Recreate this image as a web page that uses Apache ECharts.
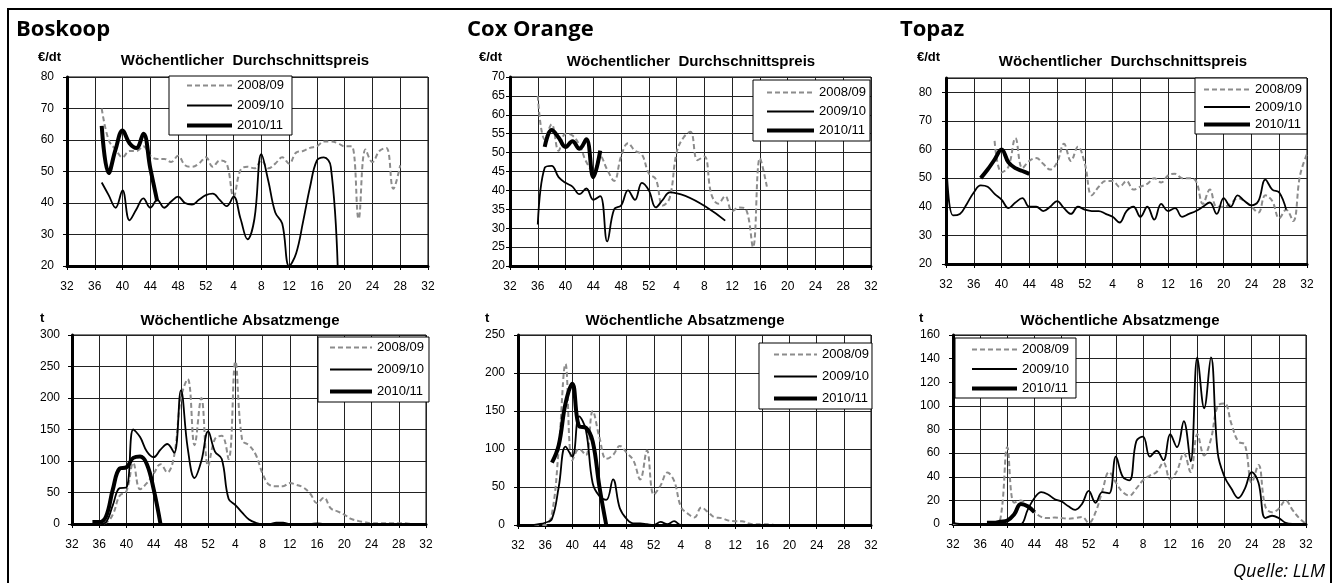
<!DOCTYPE html>
<html>
<head>
<meta charset="utf-8">
<script src="https://cdn.jsdelivr.net/npm/echarts@6/dist/echarts.min.js"></script>
<style>
  html, body { margin: 0; padding: 0; background: #fff; }
  #chart { width: 1336px; height: 583px; }
</style>
</head>
<body>
<div id="chart"></div>
<script>
// Kalenderwochen: Saison von KW 32 bis KW 32 des Folgejahres
const weeks = ['32','33','34','35','36','37','38','39','40','41','42','43','44','45','46','47','48','49','50','51','52',
  '1','2','3','4','5','6','7','8','9','10','11','12','13','14','15','16','17','18','19','20',
  '21','22','23','24','25','26','27','28','29','30','31','32'];
const seasons = ['2008/09', '2009/10', '2010/11'];

// Boskoop – Preis (€/dt), jeweils ab der angegebenen Startwoche
const bosPrice0809 = [70, 60, 57, 54.5, 56.5, 56.5, 58, 55, 54, 54, 53, 55, 52, 51.5, 52.5, 54.5,
  51.5, 53.5, 52.5, 42, 50.5, 51.5, 51, 53.5, 51, 52.5, 54.5, 52.5, 56, 56.5, 57.5, 58, 59.5, 59.5, 59, 58, 58, 35, 57, 53, 56.5, 57.5, 44.5, 52];
const bosPrice0910 = [46.5, 42.5, 38.5, 44, 34.5, 38, 41.5, 38.5, 41, 38.5, 40.5, 42, 40, 39.5, 41, 42.5,
  43, 41, 39, 42, 35, 28.5, 35, 55.5, 47, 37, 33.5, 20, 24, 34, 45, 53.5, 54.5, 51.5, 19.5];
const bosPrice1011 = [64.5, 49.5, 57, 63, 59, 57.5, 62, 51, 40.5];
// Boskoop – Menge (t)
const bosQty0809 = [0, 0, 0, 0, 0, 2, 15, 45, 52, 97, 55, 65, 80, 95, 82, 108, 200, 230, 125, 200, 92,
  135, 140, 103, 258, 133, 125, 110, 80, 62, 60, 60, 65, 62, 58, 48, 33, 42, 25, 20, 15, 8, 5, 3, 1, 1, 1, 1, 1, 1, 0, 0, 0];
const bosQty0910 = [0, 0, 0, 0, 0, 3, 30, 57, 58, 150, 138, 115, 106, 118, 127, 113, 212, 120, 73, 100, 147,
  115, 103, 40, 30, 18, 7, 2, 0, 0, 2, 2, 0, 0, 0, 0, 1, 0, 0, 0, 0, 0, 0, 0, 0, 0, 0, 0, 0, 0, 0, 0, 0];
const bosQty1011 = [3, 3, 12, 55, 88, 90, 105, 107, 95, 55, 0];

// Cox Orange – Preis (€/dt)
const coxPrice0809 = [65, 53.5, 57.5, 50.5, 55, 54.5, 52, 47.5, 45, 49, 45.5, 42.5, 49, 52.5, 50.5, 49.5, 44.5,
  43, 36, 38, 50, 54, 55.5, 48, 49, 39, 36.5, 38.5, 34.5, 35.5, 35, 25, 48.5, 41];
const coxPrice0910 = [31, 46, 46.5, 43.5, 42, 41, 39, 40.5, 37.5, 38.5, 26.5, 35, 36, 40, 37.5, 42, 40,
  35.5, 37.5, 39.5, null, null, null, null, null, null, null, 32];
const coxPrice1011 = [51.5, 56, 54, 51.5, 53, 51, 53.5, 43.5, 50.5];
// Cox Orange – Menge (t)
const coxQty0809 = [0, 0, 0, 0, 0, 15, 100, 212, 85, 100, 92, 150, 115, 87, 92, 104, 95, 85, 60, 98, 40,
  52, 69, 58, 24, 15, 10, 23, 17, 10, 9, 6, 5, 5, 2, 1, 1, 1, 0, 0, 0, 0, 0, 0, 0, 0, 0, 0, 0, 0, 0, 0, 0];
const coxQty0910 = [0, 0, 0, 1, 3, 8, 50, 103, 90, 143, 125, 55, 38, 33, 60, 22, 8, 2, 2, 1, 0,
  4, 1, 5, 0, 0, 0, 0, 0, 0, 0, 0, 0, 0, 0, 0, 0, 0, 0, 0, 0, 0, 0, 0, 0, 0, 0, 0, 0, 0, 0, 0, 0];
const coxQty1011 = [82, 105, 160, 186, 130, 128, 110, 50, 0];

// Topaz – Preis (€/dt)
const topPrice0809 = [63, 52, 54, 64, 53.5, 56, 57, 55, 53, 55.5, 62, 56, 61, 55,
  44, 47, 49, 49, 47, 49, 46, 47, 48, 50, 48.5, 51, 51.5, 50, 50, 49, 41, 46, 40, 40, 41, 43, 42, 40, 38, 44, 42, 36, 39, 35, 51, 58.5];
const topPrice0910 = [58, 37, 37.5, 41, 45, 47.5, 47, 44.5, 42.5, 39.5, 41.5, 43, 40, 40, 38.5, 40, 42, 39.5, 37.5, 40, 39,
  38.5, 38.5, 37.5, 36.5, 34.5, 38.5, 40, 36.5, 40, 35.5, 41, 38.5, 39.5, 36.5, 37.5, 38.5, 40, 41.5, 37.5, 43, 40, 44, 42, 40.5, 42, 49.5, 46, 45, 39];
const topPrice1011 = [50, 53, 56.5, 60, 55.5, 53.5, 52.5, 51.5];
// Topaz – Menge (t)
const topQty0809 = [0, 0, 0, 0, 0, 0, 0, 5, 65, 18, 20, 14, 10, 6, 5, 5.5, 5, 4.5, 5, 6, 1,
  10, 28, 44, 35, 27, 24, 30, 37, 41, 44, 52, 38, 45, 60, 44, 76, 58, 72, 100, 102, 85, 70, 67, 35, 50, 15, 10, 13, 20, 12, 5, 0];
const topQty0910 = [1, 0, 0, 0, 0, 0, 0, 0, 0, 0, 0, 12, 22, 27, 25, 21, 19, 15, 12, 17, 28,
  18, 27, 26, 57, 40, 37, 70, 74, 57, 62, 54, 76, 65, 87, 53, 141, 98, 141, 60, 40, 30, 22, 30, 44, 35, 5, 7, 5, 1, 0, 0, 0];
const topQty1011 = [1, 1, 2, 3, 8, 17, 15, 10];

// Startwoche (erste Saisonhälfte) -> Position auf der Kategorieachse
function fromWeek(week, values) {
  const out = new Array(weeks.length).fill(null);
  values.forEach((v, i) => { out[week - 32 + i] = v; });
  return out;
}

const FONT = '"Liberation Sans", Arial, sans-serif';
const lineStyles = [
  { color: '#8c8c8c', width: 2, type: [5, 3] },
  { color: '#000', width: 1.8, type: 'solid' },
  { color: '#000', width: 4, type: 'solid' }
];

const panels = [
  { grid: { left: 67, top: 77, width: 361, height: 189 }, min: 20, max: 80, interval: 10, margin: 13,
    data: [fromWeek(37, bosPrice0809), fromWeek(37, bosPrice0910), fromWeek(37, bosPrice1011)],
    legend: { left: 169, top: 76, padding: [3, 8, 3, 16], itemWidth: 45, itemHeight: 14, itemGap: 7 } },
  { grid: { left: 72, top: 335, width: 354, height: 189 }, min: 0, max: 300, interval: 50, margin: 12,
    data: [fromWeek(32, bosQty0809), fromWeek(32, bosQty0910), fromWeek(35, bosQty1011)],
    legend: { left: 318, top: 337, padding: [4, 5, 4, 10], itemWidth: 42, itemHeight: 14, itemGap: 9 } },
  { grid: { left: 510, top: 77, width: 361, height: 189 }, min: 20, max: 70, interval: 5, margin: 5,
    data: [fromWeek(36, coxPrice0809), fromWeek(36, coxPrice0910), fromWeek(37, coxPrice1011)],
    legend: { left: 753, top: 80, padding: [6, 4, 4, 12], itemWidth: 47, itemHeight: 14, itemGap: 6 } },
  { grid: { left: 518, top: 335, width: 353, height: 190 }, min: 0, max: 250, interval: 50, margin: 13,
    data: [fromWeek(32, coxQty0809), fromWeek(32, coxQty0910), fromWeek(37, coxQty1011)],
    legend: { left: 759, top: 343, padding: [5, 3, 4, 13], itemWidth: 43, itemHeight: 14, itemGap: 9 } },
  { grid: { left: 946, top: 78, width: 361, height: 186 }, min: 20, max: 85, interval: 10, margin: 14,
    data: [fromWeek(39, topPrice0809), fromWeek(32, topPrice0910), fromWeek(37, topPrice1011)],
    legend: { left: 1195, top: 78, padding: [5, 5, 3, 7], itemWidth: 46, itemHeight: 12, itemGap: 4.5 } },
  { grid: { left: 953, top: 335, width: 353, height: 189 }, min: 0, max: 160, interval: 20, margin: 13,
    data: [fromWeek(32, topQty0809), fromWeek(32, topQty0910), fromWeek(37, topQty1011)],
    legend: { left: 955, top: 338, padding: [5, 7, 3, 15], itemWidth: 45, itemHeight: 12, itemGap: 6.5 } }
];

const grids = [], xAxes = [], yAxes = [], series = [], legends = [];
panels.forEach((p, i) => {
  grids.push(Object.assign({ show: true, borderColor: '#000', borderWidth: 1, backgroundColor: '#fff' }, p.grid));
  xAxes.push({
    type: 'category', gridIndex: i, data: weeks, boundaryGap: false,
    axisLine: { show: true, onZero: false, lineStyle: { color: '#000', width: 3 } },
    axisTick: { show: true, interval: 3, length: 4, lineStyle: { color: '#000' } },
    axisLabel: { interval: 3, margin: 15, color: '#000', fontSize: 12, fontFamily: FONT },
    splitLine: { show: true, interval: 3, lineStyle: { color: '#222', width: 1 } }
  });
  yAxes.push({
    type: 'value', gridIndex: i, min: p.min, max: p.max, interval: p.interval,
    axisLine: { show: true, lineStyle: { color: '#000', width: 3 } },
    axisTick: { show: true, length: 4, lineStyle: { color: '#000' } },
    axisLabel: { margin: p.margin, color: '#000', fontSize: 12, fontFamily: FONT, showMaxLabel: p.max % p.interval === 0 },
    splitLine: { show: true, lineStyle: { color: '#222', width: 1 } }
  });
  p.data.forEach((d, k) => {
    series.push({
      name: seasons[k], type: 'line', xAxisIndex: i, yAxisIndex: i, data: d,
      smooth: 0.4, symbol: 'none', connectNulls: true, z: 2 + k,
      lineStyle: lineStyles[k], itemStyle: { color: lineStyles[k].color }
    });
  });
  legends.push(Object.assign({
    orient: 'vertical', data: seasons, selectedMode: false,
    backgroundColor: '#fff', borderColor: '#000', borderWidth: 1,
    textStyle: { color: '#000', fontSize: 13, fontFamily: FONT },
    itemStyle: { opacity: 0, borderWidth: 0 },
    lineStyle: { width: 'inherit' }
  }, p.legend));
});

const txt = (text, x, y, font, align) => ({
  type: 'text', x: x, y: y, z: 10,
  style: { text: text, font: font, fill: '#000', align: align || 'left', verticalAlign: 'middle' }
});
const panelFont = 'bold 22px "Open Sans", sans-serif';
const subFont = 'bold 15px ' + FONT;
const unitFont = 'bold 13px ' + FONT;

const graphics = [
  // Gesamttitel, oben vom Bildrand abgeschnitten
  { type: 'group', x: 12, y: 0, z: 9, children: [
    { type: 'text', x: 0, y: -2,
      style: { text: 'Erzeugerpreise und Absatzmengen', font: 'bold 30px "Open Sans", sans-serif', fill: '#000', verticalAlign: 'bottom' } }
  ] },
  { type: 'rect', z: 11, shape: { x: 8, y: 9, width: 1323, height: 640 },
    style: { fill: 'none', stroke: '#000', lineWidth: 2 } },
  txt('Boskoop', 16, 30, panelFont),
  txt('Cox Orange', 467, 30, panelFont),
  txt('Topaz', 900, 30, panelFont),
  txt('€/dt', 38, 57, unitFont), txt('€/dt', 479, 57, unitFont), txt('€/dt', 917, 57, unitFont),
  txt('t', 40, 318, unitFont), txt('t', 485, 318, unitFont), txt('t', 919, 318, unitFont),
  txt('Wöchentlicher  Durchschnittspreis', 245, 61, subFont, 'center'),
  txt('Wöchentlicher  Durchschnittspreis', 691, 62, subFont, 'center'),
  txt('Wöchentlicher  Durchschnittspreis', 1123, 62, subFont, 'center'),
  txt('Wöchentliche Absatzmenge', 240, 321, subFont, 'center'),
  txt('Wöchentliche Absatzmenge', 685, 321, subFont, 'center'),
  txt('Wöchentliche Absatzmenge', 1120, 321, subFont, 'center'),
  txt('Quelle: LLM', 1325, 572, 'italic 18px "Open Sans", sans-serif', 'right')
];

const chart = echarts.init(document.getElementById('chart'));
chart.setOption({
  animation: false,
  backgroundColor: '#fff',
  grid: grids,
  xAxis: xAxes,
  yAxis: yAxes,
  legend: legends,
  series: series,
  graphic: graphics
});
</script>
</body>
</html>
